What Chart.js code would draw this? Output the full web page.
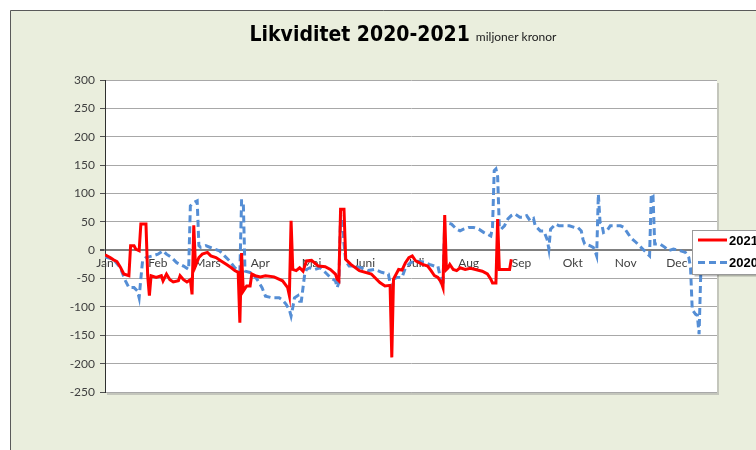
<!DOCTYPE html>
<html>
<head>
<meta charset="utf-8">
<script src="https://cdn.jsdelivr.net/npm/chart.js@4/dist/chart.umd.min.js"></script>
<style>
  html, body { margin: 0; padding: 0; background: #fff; }
  canvas { display: block; }
</style>
</head>
<body>
<canvas id="chart" width="756" height="450"></canvas>
<script>
// månader (dag nr från 1 jan)
const monthLabels = ['Jan', 'Feb', 'Mars', 'Apr', 'Maj', 'Juni', 'Juli', 'Aug', 'Sep', 'Okt', 'Nov', 'Dec'];
const monthStarts = [0, 31, 60, 91, 121, 152, 182, 213, 244, 274, 305, 335];

// 2021 - röd
const days2021 = [0, 3, 5, 7, 9, 11, 14, 15, 17, 18, 20, 21, 24, 25, 26, 27, 30, 33, 34, 36, 38, 40, 43, 44, 46, 48, 50, 51, 52, 53, 55, 57, 60, 62, 65, 68, 71, 74, 76, 78, 79, 80, 81, 83, 85, 86, 88, 91, 94, 99, 104, 107, 108, 109, 110, 112, 114, 116, 118, 121, 125, 129, 132, 135, 136, 137, 138, 140, 141, 144, 149, 156, 161, 164, 167, 168, 169, 172, 174, 176, 178, 180, 182, 186, 189, 191, 193, 195, 197, 198, 199, 200, 201, 202, 204, 206, 208, 211, 214, 217, 221, 224, 226, 227, 229, 230, 231, 237, 238];
const vals2021 = [-8, -13, -17, -20, -30, -42, -45, 8, 8, 2, -1, 46, 46, -45, -80, -45, -48, -45, -54, -42, -52, -56, -54, -45, -52, -56, -52, -78, 44, -28, -13, -7, -4, -10, -13, -19, -25, -31, -36, -39, -128, -5, -72, -63, -63, -42, -45, -47, -45, -47, -54, -66, -80, 52, -34, -36, -31, -37, -19, -18, -28, -29, -34, -42, -51, -54, 72, 72, -16, -25, -36, -42, -57, -63, -62, -189, -51, -34, -35, -22, -13, -10, -19, -25, -28, -36, -45, -48, -57, -66, 62, -34, -31, -25, -34, -36, -31, -34, -32, -34, -37, -42, -51, -58, -58, 55, -34, -34, -16];

// 2020 - blå streckad
const days2020 = [0, 5, 9, 12, 14, 17, 19, 20, 21, 22, 24, 28, 31, 34, 36, 39, 42, 46, 49, 50, 52, 54, 55, 56, 59, 64, 67, 70, 73, 76, 78, 79, 80, 81, 82, 86, 89, 92, 94, 98, 102, 104, 106, 108, 109, 110, 111, 113, 114, 115, 116, 117, 118, 120, 123, 126, 129, 132, 135, 136, 137, 138, 139, 140, 141, 143, 146, 150, 154, 158, 162, 166, 168, 169, 171, 174, 176, 179, 182, 187, 190, 193, 195, 196, 197, 198, 199, 203, 206, 208, 210, 213, 216, 219, 222, 226, 227, 228, 229, 230, 231, 232, 234, 236, 238, 240, 243, 245, 247, 249, 251, 252, 255, 257, 259, 260, 261, 264, 266, 270, 272, 275, 277, 279, 280, 281, 284, 286, 287, 288, 289, 290, 291, 292, 294, 296, 299, 302, 304, 306, 308, 311, 314, 316, 318, 319, 320, 321, 322, 325, 328, 330, 333, 336, 340, 342, 343, 344, 346, 347, 348, 349];
const vals2020 = [-12, -16, -31, -54, -66, -66, -72, -84, -50, -19, -13, -10, -7, -1, -7, -13, -22, -28, -34, 78, 84, 87, 8, 5, 8, 2, -1, -10, -19, -31, -36, -38, 87, 87, -37, -40, -51, -66, -81, -84, -84, -88, -95, -105, -116, -101, -84, -80, -90, -90, -66, -42, -34, -31, -34, -31, -39, -48, -54, -66, -57, 61, 58, 11, -19, -28, -28, -31, -36, -34, -39, -42, -75, -51, -48, -48, -31, -22, -19, -21, -25, -28, -28, -42, -60, -62, 49, 46, 37, 34, 37, 40, 40, 37, 31, 25, 40, 140, 143, 130, 40, 37, 43, 55, 61, 64, 58, 58, 61, 52, 56, 43, 34, 34, 19, 2, 37, 46, 43, 43, 43, 40, 40, 34, 19, 11, 8, 5, -1, -10, 99, 49, 46, 31, 34, 43, 43, 43, 40, 31, 22, 14, 5, -1, -7, -10, 99, 97, 11, 11, 5, -1, 2, 0, -4, -13, -31, -105, -113, -115, -148, -40];

const toPoints = (days, vals) => days.map((d, i) => ({ x: d, y: vals[i] }));

Chart.defaults.font.family = 'Lato';
Chart.defaults.font.size = 12;
Chart.defaults.color = '#404040';

const titleFont = 'bold 21px "Liberation Sans Narrow", "DejaVu Sans Condensed", "DejaVu Sans", sans-serif';

// bakgrund, ram och vit ritarea
const frame = {
  id: 'frame',
  beforeDraw(chart) {
    const { ctx, chartArea: a } = chart;
    ctx.save();
    ctx.fillStyle = '#ffffff';
    ctx.fillRect(0, 0, chart.width, chart.height);
    ctx.fillStyle = '#eaeedd';
    ctx.fillRect(10, 10, chart.width - 10, chart.height - 10);
    ctx.strokeStyle = '#5a5a5a';
    ctx.lineWidth = 1;
    ctx.beginPath();
    ctx.moveTo(10.5, chart.height);
    ctx.lineTo(10.5, 10.5);
    ctx.lineTo(chart.width, 10.5);
    ctx.stroke();
    ctx.fillStyle = '#c4c6bc';
    ctx.fillRect(a.left + 2, a.bottom, a.width, 3);
    ctx.fillRect(a.right, a.top + 3, 2, a.height);
    ctx.fillStyle = '#ffffff';
    ctx.fillRect(a.left, a.top, a.width, a.height);
    ctx.restore();
  }
};

// rubrik + enhet på samma rad
const titel = {
  id: 'titel',
  afterDraw(chart) {
    const ctx = chart.ctx;
    const t1 = 'Likviditet 2020-2021';
    const t2 = 'miljoner kronor';
    ctx.save();
    ctx.textBaseline = 'alphabetic';
    if ('fontStretch' in ctx) ctx.fontStretch = 'condensed';
    ctx.font = titleFont;
    const w1 = ctx.measureText(t1).width;
    ctx.fillStyle = '#000';
    const f2 = '12px Lato';
    const saveStretch = ctx.fontStretch;
    if ('fontStretch' in ctx) ctx.fontStretch = 'normal';
    ctx.font = f2;
    const w2 = ctx.measureText(t2).width;
    const x0 = 403 - (w1 + 6 + w2) / 2;
    if ('fontStretch' in ctx) ctx.fontStretch = saveStretch;
    ctx.font = titleFont;
    ctx.fillText(t1, x0, 41);
    if ('fontStretch' in ctx) ctx.fontStretch = 'normal';
    ctx.fillStyle = '#202020';
    ctx.font = f2;
    ctx.fillText(t2, x0 + w1 + 6, 41);
    ctx.restore();
  }
};

// förklaring till höger (delvis utanför bild)
const legendBox = {
  id: 'legendBox',
  afterDraw(chart) {
    const ctx = chart.ctx;
    const bx = 692.5, by = 230.5, bw = 90, bh = 44;
    ctx.save();
    ctx.fillStyle = 'rgba(0,0,0,0.25)';
    ctx.fillRect(bx + 2, by + 2, bw, bh);
    ctx.fillStyle = '#fff';
    ctx.fillRect(bx, by, bw, bh);
    ctx.strokeStyle = '#9a9a9a';
    ctx.lineWidth = 1;
    ctx.strokeRect(bx, by, bw, bh);
    chart.data.datasets.forEach((ds, i) => {
      const y = 240 + i * 22.5;
      ctx.strokeStyle = ds.borderColor;
      ctx.lineWidth = ds.borderWidth;
      ctx.setLineDash(ds.borderDash || []);
      ctx.beginPath();
      ctx.moveTo(698, y);
      ctx.lineTo(727, y);
      ctx.stroke();
      ctx.setLineDash([]);
      ctx.fillStyle = '#000';
      ctx.font = 'bold 13px "Liberation Sans"';
      ctx.textBaseline = 'middle';
      ctx.fillText(ds.label, 729, y + 1);
    });
    ctx.restore();
  }
};

new Chart(document.getElementById('chart'), {
  type: 'line',
  data: {
    datasets: [
      {
        label: '2021',
        data: toPoints(days2021, vals2021),
        borderColor: '#ff0000',
        borderWidth: 3,
        pointRadius: 0,
        tension: 0
      },
      {
        label: '2020',
        data: toPoints(days2020, vals2020),
        borderColor: '#558ed5',
        borderWidth: 3,
        borderDash: [7, 4],
        pointRadius: 0,
        tension: 0
      }
    ]
  },
  options: {
    responsive: false,
    animation: false,
    layout: { padding: { top: 80, right: 39, bottom: 58, left: 0 } },
    plugins: {
      legend: { display: false },
      title: { display: false },
      tooltip: { enabled: false }
    },
    scales: {
      x: {
        type: 'linear',
        min: 0,
        max: 358.5,
        position: { y: 0 },
        afterBuildTicks: (scale) => {
          scale.ticks = monthStarts.map(v => ({ value: v }));
        },
        ticks: {
          autoSkip: false,
          maxRotation: 0,
          padding: 6,
          color: '#404040',
          callback: (value, index) => monthLabels[index]
        },
        grid: { display: false, drawTicks: false },
        border: { display: true, color: '#808080', width: 2 }
      },
      y: {
        min: -250,
        max: 300,
        afterFit: (scale) => { scale.width = 105; },
        ticks: { stepSize: 50, padding: 5, color: '#404040' },
        grid: {
          color: (c) => c.tick && c.tick.value === 0 ? '#808080' : '#a8a8a8',
          lineWidth: (c) => c.tick && c.tick.value === 0 ? 2 : 1,
          tickLength: 5,
          tickColor: '#505050'
        },
        border: { display: true, color: '#303030', width: 1 }
      }
    }
  },
  plugins: [frame, titel, legendBox]
});
</script>
</body>
</html>
